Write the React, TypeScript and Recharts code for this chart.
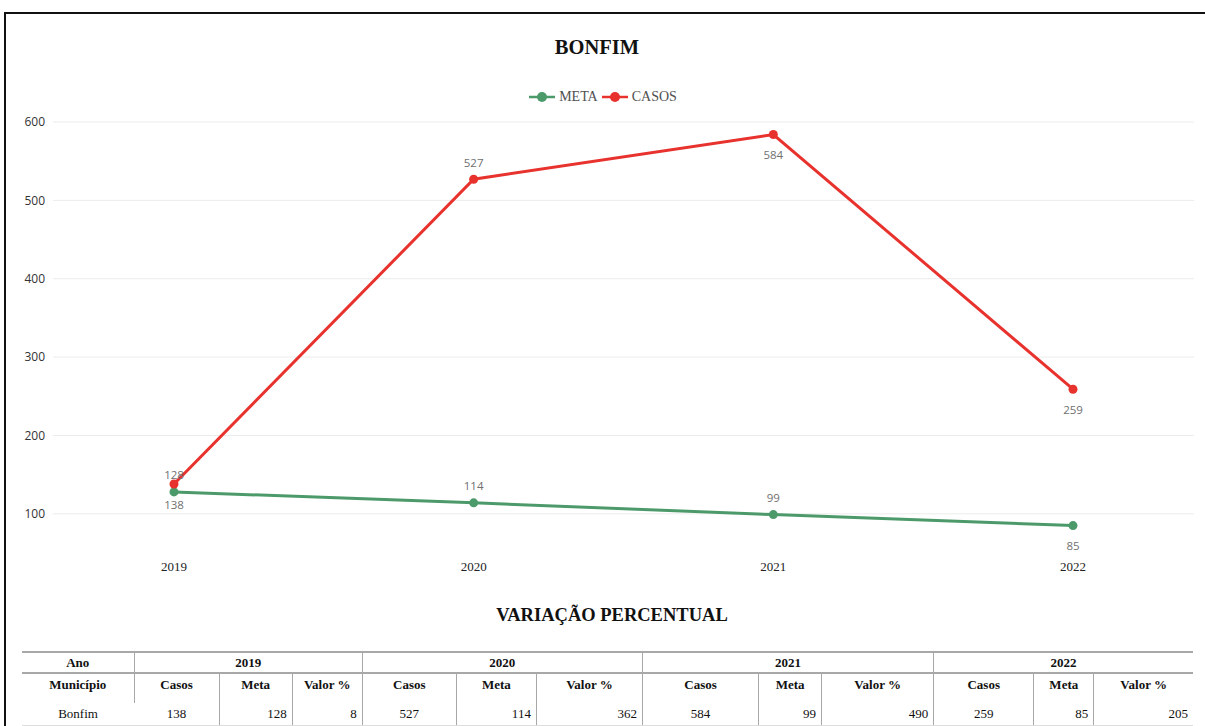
import React from 'react';
import { LineChart, Line, XAxis, YAxis, CartesianGrid, LabelList } from 'recharts';

const years = ['2019', '2020', '2021', '2022'];
const casos = [138, 527, 584, 259];
const meta = [128, 114, 99, 85];
const valorPct = [8, 362, 490, 205];
const yTicks = [100, 200, 300, 400, 500, 600];
const municipio = 'Bonfim';

const GREEN = '#4c9a6a';
const RED = '#e8322d';
const GRID = '#ececec';
const TABLE_LINE = '#a8a8a8';

// label above or below each point
const metaLabelSide = ['top', 'top', 'top', 'bottom'];
const casosLabelSide = ['bottom', 'top', 'bottom', 'bottom'];

const chartData = years.map((ano, i) => ({ ano, meta: meta[i], casos: casos[i] }));

const makeLabel = (sides: string[]) => (props: any) => {
    const { x, y, value, index } = props;
    const dy = sides[index] === 'top' ? -17 : 20;
    return (
        <text
            x={x}
            y={y + dy}
            textAnchor="middle"
            dominantBaseline="central"
            fontFamily="'Open Sans', sans-serif"
            fontSize={11.5}
            fill="#707070"
        >
            {value}
        </text>
    );
};

const LegendItem: React.FC<{ color: string; label: string }> = ({ color, label }) => (
    <span style={{ display: 'inline-flex', alignItems: 'center', marginRight: 4 }}>
        <svg width={26} height={12} style={{ marginRight: 4 }}>
            <line x1={0} y1={6} x2={26} y2={6} stroke={color} strokeWidth={2.5} />
            <circle cx={13} cy={6} r={5} fill={color} />
        </svg>
        <span>{label}</span>
    </span>
);

const serif = "'Liberation Serif', 'Times New Roman', serif";

const colWidths = [112, 85, 73, 70, 94, 80, 106, 116, 63, 112, 100, 60, 99];

const cell = (extra: React.CSSProperties): React.CSSProperties => ({
    padding: 0,
    fontSize: 13,
    ...extra,
});

const PercentTable: React.FC = () => {
    const vline = `1px solid ${TABLE_LINE}`;
    return (
        <table
            style={{
                position: 'absolute',
                left: 22,
                top: 651,
                width: 1171,
                borderCollapse: 'collapse',
                tableLayout: 'fixed',
                fontFamily: serif,
                color: '#111',
            }}
        >
            <colgroup>
                {colWidths.map((w, i) => (
                    <col key={i} style={{ width: w }} />
                ))}
            </colgroup>
            <tbody>
                <tr style={{ height: 21 }}>
                    <th
                        style={cell({
                            borderTop: `2px solid ${TABLE_LINE}`,
                            borderBottom: `2px solid ${TABLE_LINE}`,
                            borderRight: vline,
                        })}
                    >
                        Ano
                    </th>
                    {years.map((ano, i) => (
                        <th
                            key={ano}
                            colSpan={3}
                            style={cell({
                                borderTop: `2px solid ${TABLE_LINE}`,
                                borderBottom: `2px solid ${TABLE_LINE}`,
                                borderRight: i < years.length - 1 ? vline : 'none',
                            })}
                        >
                            {ano}
                        </th>
                    ))}
                </tr>
                <tr style={{ height: 30 }}>
                    <th style={cell({ borderRight: vline, verticalAlign: 'top', paddingTop: 3 })}>Município</th>
                    {years.map((ano, i) =>
                        ['Casos', 'Meta', 'Valor %'].map((h, j) => (
                            <th
                                key={ano + h}
                                style={cell({
                                    verticalAlign: 'top',
                                    paddingTop: 3,
                                    borderRight: i === years.length - 1 && j === 2 ? 'none' : vline,
                                })}
                            >
                                {h}
                            </th>
                        ))
                    )}
                </tr>
                <tr style={{ height: 22 }}>
                    <td style={cell({ textAlign: 'center', borderBottom: '1px solid #ddd' })}>{municipio}</td>
                    {years.map((ano, i) => [
                        <td
                            key={ano + 'c'}
                            style={cell({ textAlign: 'center', borderRight: vline, borderBottom: '1px solid #ddd' })}
                        >
                            {casos[i]}
                        </td>,
                        <td
                            key={ano + 'm'}
                            style={cell({
                                textAlign: 'right',
                                paddingRight: 5,
                                borderRight: vline,
                                borderBottom: '1px solid #ddd',
                            })}
                        >
                            {meta[i]}
                        </td>,
                        <td
                            key={ano + 'v'}
                            style={cell({
                                textAlign: 'right',
                                paddingRight: 5,
                                borderRight: i === years.length - 1 ? 'none' : vline,
                                borderBottom: '1px solid #ddd',
                            })}
                        >
                            {valorPct[i]}
                        </td>,
                    ])}
                </tr>
            </tbody>
        </table>
    );
};

const App: React.FC = () => {
    return (
        <div
            style={{
                position: 'absolute',
                left: 0,
                top: 0,
                width: 1205,
                height: 726,
                overflow: 'hidden',
                background: '#fff',
            }}
        >
            <div
                style={{
                    position: 'absolute',
                    left: 4,
                    top: 12,
                    width: 1220,
                    height: 730,
                    borderTop: '2px solid #111',
                    borderLeft: '2px solid #111',
                }}
            />
            <div
                style={{
                    position: 'absolute',
                    left: 0,
                    top: 36,
                    width: 1194,
                    textAlign: 'center',
                    fontFamily: serif,
                    fontWeight: 'bold',
                    fontSize: 20.5,
                    color: '#111',
                }}
            >
                BONFIM
            </div>
            <div
                style={{
                    position: 'absolute',
                    left: 0,
                    top: 89,
                    width: 1210,
                    textAlign: 'center',
                    fontFamily: serif,
                    fontSize: 14,
                    color: '#505050',
                    display: 'flex',
                    justifyContent: 'center',
                }}
            >
                <LegendItem color={GREEN} label="META" />
                <LegendItem color={RED} label="CASOS" />
            </div>
            <div style={{ position: 'absolute', left: 0, top: 0 }}>
                <LineChart width={1205} height={600} data={chartData} margin={{ top: 122, right: 11, bottom: 17, left: 0 }}>
                    <CartesianGrid vertical={false} stroke={GRID} horizontalValues={yTicks} />
                    <XAxis
                        dataKey="ano"
                        axisLine={false}
                        tickLine={false}
                        padding={{ left: 121, right: 121 }}
                        tick={{ fontFamily: serif, fontSize: 13, fill: '#222' }}
                        tickMargin={3}
                    />
                    <YAxis
                        width={53}
                        domain={[50, 600]}
                        ticks={yTicks}
                        axisLine={false}
                        tickLine={false}
                        tick={{ fontFamily: "'Open Sans', sans-serif", fontSize: 12, fill: '#333' }}
                    />
                    <Line
                        dataKey="meta"
                        name="META"
                        stroke={GREEN}
                        strokeWidth={3}
                        dot={{ r: 4.5, fill: GREEN, stroke: GREEN, strokeWidth: 0 }}
                        activeDot={false}
                        isAnimationActive={false}
                    >
                        <LabelList dataKey="meta" content={makeLabel(metaLabelSide)} />
                    </Line>
                    <Line
                        dataKey="casos"
                        name="CASOS"
                        stroke={RED}
                        strokeWidth={3}
                        dot={{ r: 4.5, fill: RED, stroke: RED, strokeWidth: 0 }}
                        activeDot={false}
                        isAnimationActive={false}
                    >
                        <LabelList dataKey="casos" content={makeLabel(casosLabelSide)} />
                    </Line>
                </LineChart>
            </div>
            <div
                style={{
                    position: 'absolute',
                    left: 0,
                    top: 605,
                    width: 1224,
                    textAlign: 'center',
                    fontFamily: serif,
                    fontWeight: 'bold',
                    fontSize: 18.5,
                    color: '#111',
                }}
            >
                VARIAÇÃO PERCENTUAL
            </div>
            <PercentTable />
        </div>
    );
};

export default App;
